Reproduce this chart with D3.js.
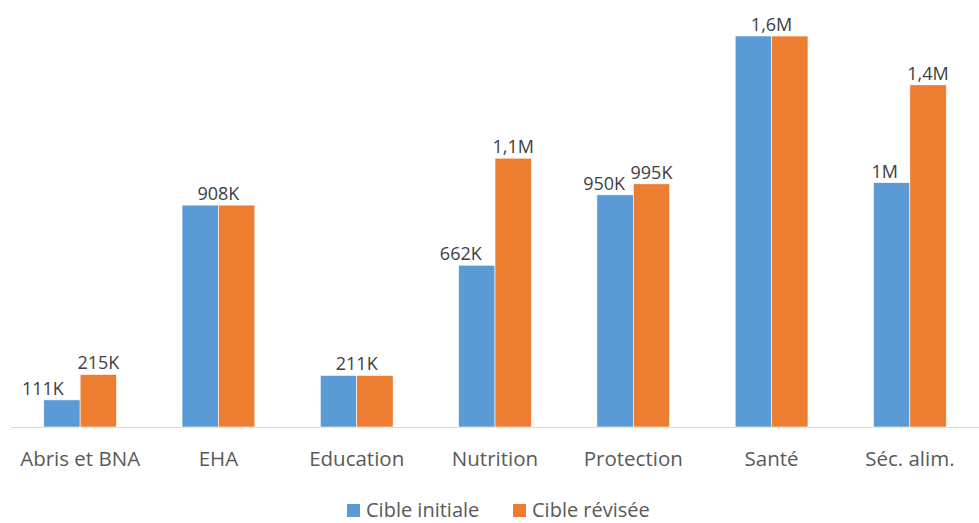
<!DOCTYPE html>
<html><head><meta charset="utf-8">
<script src="https://cdn.jsdelivr.net/npm/d3@7"></script>
<style>body{margin:0;background:#fff}svg text{font-family:"Open Sans",sans-serif}</style>
</head><body><svg id="c" width="979" height="523"></svg>
<script>
const categories = ["Abris et BNA","EHA","Education","Nutrition","Protection","Santé","Séc. alim."];
const seriesNames = ["Cible initiale","Cible révisée"];
const initiale = [111000, 908000, 211000, 662000, 950000, 1600000, 1000000];
const revisee  = [215000, 908000, 211000, 1100000, 995000, 1600000, 1400000];
const colors = ["#5B9BD5","#ED7D31"];
// horizontal nudges of the blue labels (as placed in the original)
const initLabelShift = [-19, 0, 0, -16, -11, 0, -7];

function fmt(v){
  if (v < 1e6) return Math.round(v/1000) + "K";
  let s = (v/1e6).toFixed(1).replace(".", ",");
  if (s.endsWith(",0")) s = s.slice(0,-2);
  return s + "M";
}

const svg = d3.select("#c");
const plotLeft = 11, plotRight = 979, plotBase = 427, plotTop = 36;
const x0 = d3.scaleBand().domain(categories).range([plotLeft, plotRight]).padding(0);
const x1 = d3.scaleBand().domain([0,1]).range([0, x0.bandwidth()]).paddingInner(0).paddingOuter(0.9);
const y = d3.scaleLinear().domain([0, 1600000]).range([plotBase, plotTop]);

svg.append("line").attr("x1", plotLeft).attr("x2", plotRight).attr("y1", plotBase+0.5).attr("y2", plotBase+0.5)
  .attr("stroke", "#D9D9D9").attr("stroke-width", 1);

const data = categories.map((c,i)=>({c, vals:[initiale[i], revisee[i]], i}));
const g = svg.selectAll("g.cat").data(data).join("g").attr("class","cat")
  .attr("transform", d=>`translate(${x0(d.c)},0)`);

g.selectAll("rect").data(d=>d.vals.map((v,k)=>({v,k}))).join("rect")
  .attr("x", d=>x1(d.k)).attr("width", x1.bandwidth())
  .attr("y", d=>y(d.v)).attr("height", d=>plotBase - y(d.v))
  .attr("fill", d=>colors[d.k]).attr("stroke","#ffffff").attr("stroke-width",0.6);

g.each(function(d){
  const sel = d3.select(this);
  const [a,b] = d.vals;
  if (a === b) {
    sel.append("text").attr("x", x0.bandwidth()/2).attr("y", y(a)-5)
      .attr("text-anchor","middle").attr("font-size",18).attr("fill","#404040").text(fmt(a));
  } else {
    [a,b].forEach((v,k)=>{
      sel.append("text").attr("x", x1(k)+x1.bandwidth()/2 + (k===0?initLabelShift[d.i]:0)).attr("y", y(v)-5)
        .attr("text-anchor","middle").attr("font-size",18).attr("fill","#404040").text(fmt(v));
    });
  }
});

svg.selectAll("text.catlab").data(categories).join("text").attr("class","catlab")
  .attr("x", d=>x0(d)+x0.bandwidth()/2).attr("y", 466)
  .attr("text-anchor","middle").attr("font-size",20.5).attr("fill","#595959").text(d=>d);

const legX = [347, 513];
const lg = svg.selectAll("g.leg").data(seriesNames).join("g").attr("class","leg")
  .attr("transform",(d,i)=>`translate(${legX[i]},504)`);
lg.append("rect").attr("width",13).attr("height",13).attr("fill",(d,i)=>colors[i]);
lg.append("text").attr("x",19).attr("y",13).attr("font-size",20).attr("fill","#595959").text(d=>d);
</script></body></html>
